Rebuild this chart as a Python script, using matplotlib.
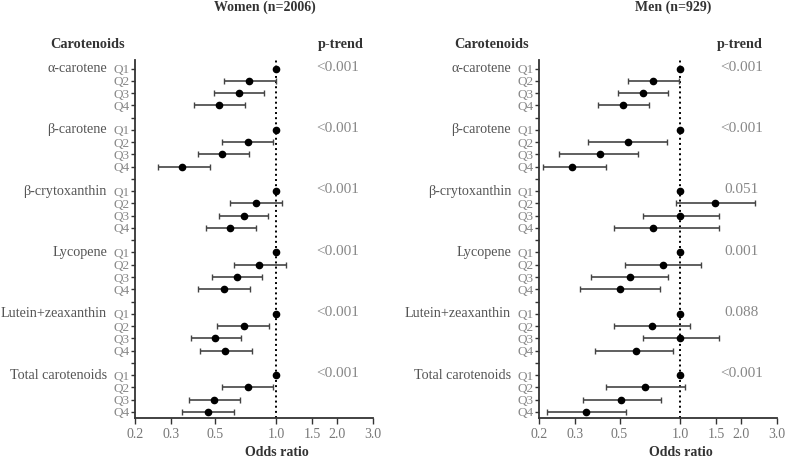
import numpy as np
from matplotlib import pyplot as plt
plt.rcParams['font.family'] = ['Liberation Serif', 'DejaVu Sans']

# 数据
groups = ['α-carotene', 'β-carotene', 'β-crytoxanthin', 'Lycopene', 'Lutein+zeaxanthin', 'Total carotenoids']
quartiles = ['Q1', 'Q2', 'Q3', 'Q4']

women_or = [[1.0, 0.73, 0.65, 0.52], [1.0, 0.72, 0.54, 0.34], [1.0, 0.79, 0.69, 0.59],
            [1.0, 0.82, 0.64, 0.55], [1.0, 0.69, 0.50, 0.56], [1.0, 0.72, 0.49, 0.46]]
women_lo = [[1.0, 0.55, 0.49, 0.39], [1.0, 0.54, 0.41, 0.26], [1.0, 0.59, 0.52, 0.45],
            [1.0, 0.62, 0.48, 0.41], [1.0, 0.51, 0.38, 0.42], [1.0, 0.54, 0.37, 0.34]]
women_hi = [[1.0, 0.99, 0.87, 0.70], [1.0, 0.96, 0.73, 0.47], [1.0, 1.06, 0.91, 0.79],
            [1.0, 1.11, 0.85, 0.74], [1.0, 0.92, 0.67, 0.76], [1.0, 0.96, 0.66, 0.62]]
women_p = ['<0.001', '<0.001', '<0.001', '<0.001', '<0.001', '<0.001']

men_or = [[1.0, 0.73, 0.65, 0.52], [1.0, 0.55, 0.40, 0.29], [1.0, 1.48, 1.00, 0.73],
          [1.0, 0.82, 0.56, 0.50], [1.0, 0.72, 1.00, 0.60], [1.0, 0.67, 0.51, 0.34]]
men_lo = [[1.0, 0.55, 0.49, 0.39], [1.0, 0.35, 0.25, 0.21], [1.0, 0.95, 0.65, 0.47],
          [1.0, 0.53, 0.36, 0.32], [1.0, 0.47, 0.65, 0.38], [1.0, 0.43, 0.33, 0.22]]
men_hi = [[1.0, 0.98, 0.87, 0.70], [1.0, 0.86, 0.62, 0.43], [1.0, 2.34, 1.55, 1.55],
          [1.0, 1.27, 0.87, 0.79], [1.0, 1.11, 1.55, 0.92], [1.0, 1.05, 0.80, 0.54]]
men_p = ['<0.001', '<0.001', '0.051', '0.001', '0.088', '<0.001']

xticks = [0.2, 0.3, 0.5, 1.0, 1.5, 2.0, 3.0]

fig = plt.figure(figsize=(7.87, 4.59), dpi=100)
ax1 = fig.add_axes([0.1715, 0.0893, 0.3024, 0.780])
ax2 = fig.add_axes([0.6849, 0.0893, 0.3024, 0.780])


def draw_panel(ax, ors, los, his, pvals):
    ypos, labels, minor = [], [], []
    for g in range(len(groups)):
        for q in range(4):
            ypos.append(g * 5 + q)
            labels.append(quartiles[q])
        if g < len(groups) - 1:
            minor.append(g * 5 + 4)
    o = np.array(ors).ravel()
    lo = np.array(los).ravel()
    hi = np.array(his).ravel()
    y = np.array(ypos)
    m = hi > lo
    ax.errorbar(o[m], y[m], xerr=[o[m] - lo[m], hi[m] - o[m]], fmt='none',
                ecolor='#444444', elinewidth=1.2, capsize=2.5, capthick=1.0, zorder=2)
    ax.plot(o, y, 'o', color='black', markersize=4.5, zorder=3)
    ax.axvline(1.0, color='black', linestyle=':', linewidth=1.4, zorder=1)

    ax.set_xscale('log')
    ax.set_xlim(0.2, 3.0)
    ax.set_xticks(xticks)
    ax.set_xticklabels(['%.1f' % t for t in xticks])
    ax.xaxis.set_minor_locator(plt.NullLocator())
    ax.set_ylim(28.5, -0.7)
    ax.set_yticks(ypos)
    ax.set_yticklabels(labels)
    ax.set_yticks(minor, minor=True)

    for s in ['top', 'right']:
        ax.spines[s].set_visible(False)
    for s in ['left', 'bottom']:
        ax.spines[s].set_color('#333333')
        ax.spines[s].set_linewidth(1.3)
    ax.tick_params(axis='y', which='both', length=3, width=1, color='#333333',
                   labelsize=9.5, labelcolor='#888888', pad=1)
    ax.tick_params(axis='x', length=4, width=1, color='#333333',
                   labelsize=10, labelcolor='#777777', pad=3)

    for g in range(len(groups)):
        ax.annotate(groups[g], xy=(0, g * 5), xycoords=('axes fraction', 'data'),
                    xytext=(-28, 0), textcoords='offset pixels', ha='right', va='center',
                    fontsize=10.2, color='#555555')
        ax.text(0.85, g * 5 - 0.1, pvals[g], transform=ax.get_yaxis_transform(),
                ha='center', va='center', fontsize=11, color='#888888')

    ax.annotate('Odds ratio', xy=(1.0, 0), xycoords=('data', 'axes fraction'),
                xytext=(0, -34), textcoords='offset pixels', ha='center', va='center',
                fontsize=10, fontweight='bold', color='#333333')


draw_panel(ax1, women_or, women_lo, women_hi, women_p)
draw_panel(ax2, men_or, men_lo, men_hi, men_p)

fig.text(265 / 787, 0.984, 'Women (n=2006)', ha='center', va='center', fontsize=10, fontweight='bold', color='#333333')
fig.text(673 / 787, 0.984, 'Men (n=929)', ha='center', va='center', fontsize=10, fontweight='bold', color='#333333')
fig.text(88 / 787, 0.904, 'Carotenoids', ha='center', va='center', fontsize=10.3, fontweight='bold', color='#333333')
fig.text(341 / 787, 0.904, 'p-trend', ha='center', va='center', fontsize=10.3, fontweight='bold', color='#333333')
fig.text(492 / 787, 0.904, 'Carotenoids', ha='center', va='center', fontsize=10.3, fontweight='bold', color='#333333')
fig.text(740 / 787, 0.904, 'p-trend', ha='center', va='center', fontsize=10.3, fontweight='bold', color='#333333')

plt.savefig('out.png', dpi=100)
